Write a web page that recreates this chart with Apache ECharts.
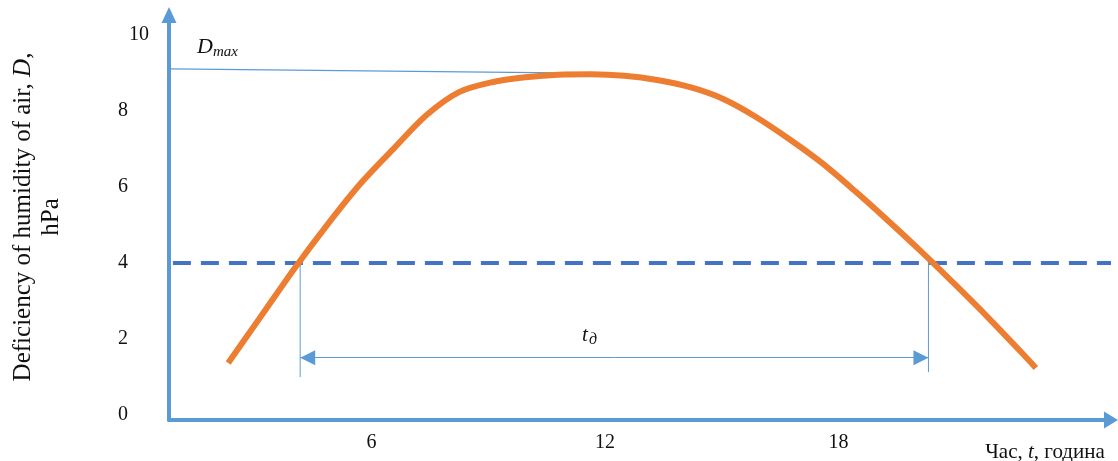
<!DOCTYPE html>
<html><head><meta charset="utf-8">
<script src="https://cdn.jsdelivr.net/npm/echarts@6/dist/echarts.min.js"></script>
<style>html,body{margin:0;padding:0;background:#fff}#c{width:1118px;height:461px}</style>
</head><body><div id="c"></div>
<script>
// Diurnal course of air humidity deficiency
const hours   = [2.32, 3.17, 4.01, 4.86, 5.71, 6.56, 7.41, 8.25, 9.10, 9.95, 10.80, 11.65, 12.50, 13.34, 14.19, 15.04, 15.89, 16.74, 17.58, 18.43, 19.28, 20.14, 20.98, 21.83, 22.69, 23.07];
const deficit = [1.37, 2.61, 3.84, 5.00, 6.08, 7.00, 7.89, 8.50, 8.76, 8.89, 8.96, 8.97, 8.93, 8.82, 8.63, 8.32, 7.84, 7.26, 6.63, 5.89, 5.11, 4.29, 3.45, 2.58, 1.66, 1.24];

const thresholdValue = 4;
const thresholdHours = [0.9, 25];
const startHour = 4.17;
const endHour = 20.31;
const leftGuide  = [4.00, 1.00];   // D values, top & bottom of left guide
const rightGuide = [4.16, 1.13];   // D values, top & bottom of right guide
const arrowLevel = 1.51;
const dmaxHours  = [0.8, 11.49];
const dmaxValues = [9.11, 9.00];

const xTicks = [6, 12, 18];
const yTicks = [0, 2, 4, 6, 8, 10];

const SERIF = 'Liberation Serif';
const AXIS_BLUE = '#5B9BD5';

const curve = hours.map((h, i) => [h, deficit[i]]);

const chart = echarts.init(document.getElementById('c'), null, {renderer: 'canvas'});
chart.setOption({
  animation: false,
  backgroundColor: '#fff',
  grid: {left: 169, right: 7, top: 15, bottom: 41, containLabel: false, outerBoundsMode: 'none'},
  xAxis: {
    type: 'value', min: 0.8, max: 25,
    axisLine: {show: true, onZero: false, lineStyle: {color: AXIS_BLUE, width: 4},
               symbol: ['none', 'triangle'], symbolSize: [17, 14]},
    axisTick: {show: false},
    splitLine: {show: false},
    axisLabel: {customValues: xTicks, margin: 13, color: '#111', fontFamily: SERIF, fontSize: 20,
                formatter: v => String(v)}
  },
  yAxis: {
    type: 'value', min: -0.13, max: 10.53,
    axisLine: {show: true, lineStyle: {color: AXIS_BLUE, width: 4},
               symbol: ['none', 'triangle'], symbolSize: [15, 16]},
    axisTick: {show: false},
    splitLine: {show: false},
    axisLabel: {customValues: yTicks, margin: 46, align: 'center', color: '#111', fontFamily: SERIF, fontSize: 20,
                formatter: v => v === 10 ? '{w|10}' : String(v),
                rich: {w: {fontFamily: SERIF, fontSize: 20, color: '#111', padding: [0, 0, 0, 32]}}}
  },
  series: [
    {
      type: 'line', data: thresholdHours.map(h => [h, thresholdValue]),
      showSymbol: false, silent: true, z: 2,
      lineStyle: {color: '#4472C4', width: 4, type: [18, 10]}
    },
    {
      type: 'line', data: [[startHour, leftGuide[0]], [startHour, leftGuide[1]]],
      showSymbol: false, silent: true, z: 2,
      lineStyle: {color: AXIS_BLUE, width: 1}
    },
    {
      type: 'line', data: [[endHour, rightGuide[0]], [endHour, rightGuide[1]]],
      showSymbol: false, silent: true, z: 2,
      lineStyle: {color: AXIS_BLUE, width: 1}
    },
    {
      type: 'line', data: dmaxHours.map((h, i) => [h, dmaxValues[i]]),
      showSymbol: false, silent: true, z: 2,
      lineStyle: {color: AXIS_BLUE, width: 1.2}
    },
    {
      type: 'line', data: [], silent: true,
      markLine: {
        silent: true, animation: false,
        symbol: ['triangle', 'triangle'], symbolSize: [15, 15],
        symbolOffset: [[0, 7.5], [0, 7.5]],
        label: {show: false},
        lineStyle: {color: AXIS_BLUE, width: 1, type: 'solid'},
        data: [[{coord: [startHour, arrowLevel]}, {coord: [endHour, arrowLevel]}]]
      }
    },
    {
      type: 'line', data: curve, smooth: 0.3, showSymbol: false, silent: true, z: 3,
      lineStyle: {color: '#ED7D31', width: 6, cap: 'butt'}
    }
  ],
  graphic: [
    {type: 'text', x: 37, y: 217, rotation: Math.PI / 2,
     style: {text: 'Deficiency of humidity of air, {i|D},\nhPa', fontFamily: SERIF, fontSize: 25, fill: '#111',
             textAlign: 'center', textVerticalAlign: 'middle', lineHeight: 28,
             rich: {i: {fontFamily: SERIF, fontSize: 25, fontStyle: 'italic', fill: '#111', lineHeight: 28}}}},
    {type: 'text', x: 1045, y: 452,
     style: {text: 'Час, {i|t}, година', fontFamily: SERIF, fontSize: 21, fill: '#111',
             textAlign: 'center', textVerticalAlign: 'middle',
             rich: {i: {fontFamily: SERIF, fontSize: 21, fontStyle: 'italic', fill: '#111'}}}},
    {type: 'text', x: 197, y: 47,
     style: {text: 'D', fontFamily: SERIF, fontSize: 22, fontStyle: 'italic', fill: '#111',
             textAlign: 'left', textVerticalAlign: 'middle'}},
    {type: 'text', x: 213, y: 52,
     style: {text: 'max', fontFamily: SERIF, fontSize: 15, fontStyle: 'italic', fill: '#111',
             textAlign: 'left', textVerticalAlign: 'middle'}},
    {type: 'text', x: 582, y: 335,
     style: {text: 't', fontFamily: SERIF, fontSize: 21, fontStyle: 'italic', fill: '#111',
             textAlign: 'left', textVerticalAlign: 'middle'}},
    {type: 'text', x: 589, y: 340,
     style: {text: 'д', fontFamily: SERIF, fontSize: 16, fontStyle: 'italic', fill: '#111',
             textAlign: 'left', textVerticalAlign: 'middle'}}
  ]
});
</script>
</body></html>
